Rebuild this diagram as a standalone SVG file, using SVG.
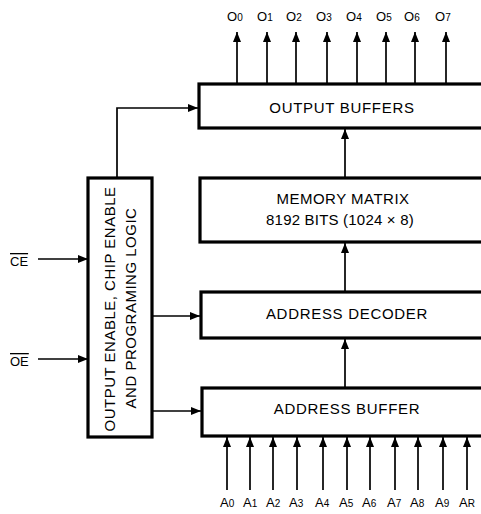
<svg xmlns="http://www.w3.org/2000/svg" width="481" height="514" viewBox="0 0 481 514">
<style>
.box{fill:#fff;stroke:#000;stroke-width:3.2}
.c{fill:none;stroke:#000;stroke-width:1.7}
.t{font-family:"Liberation Sans",Arial,sans-serif;font-size:15px;fill:#000;text-anchor:middle}
.l{font-family:"Liberation Sans",Arial,sans-serif;font-size:13px;fill:#000}
.s{font-size:10px}
</style>
<defs>
<marker id="ah" viewBox="0 0 10 8" refX="10" refY="4" markerWidth="10" markerHeight="8" markerUnits="userSpaceOnUse" orient="auto">
<path d="M0,0 L10,4 L0,8 Z" fill="#000"/>
</marker>
</defs>
<g id="connectors">
<path class="c" d="M117,178 V108 H198" marker-end="url(#ah)"/>
<path class="c" d="M38,259 H88" marker-end="url(#ah)"/>
<path class="c" d="M38,359 H88" marker-end="url(#ah)"/>
<path class="c" d="M152,316 H200" marker-end="url(#ah)"/>
<path class="c" d="M152,411 H201" marker-end="url(#ah)"/>
<path class="c" d="M345,178 V129" marker-end="url(#ah)"/>
<path class="c" d="M345,292 V243" marker-end="url(#ah)"/>
<path class="c" d="M345,388 V339" marker-end="url(#ah)"/>
<g id="outputs">
<path class="c" d="M237,83 V32" marker-end="url(#ah)"/>
<path class="c" d="M267,83 V32" marker-end="url(#ah)"/>
<path class="c" d="M296,83 V32" marker-end="url(#ah)"/>
<path class="c" d="M327,83 V32" marker-end="url(#ah)"/>
<path class="c" d="M357,83 V32" marker-end="url(#ah)"/>
<path class="c" d="M386,83 V32" marker-end="url(#ah)"/>
<path class="c" d="M415,83 V32" marker-end="url(#ah)"/>
<path class="c" d="M446,83 V32" marker-end="url(#ah)"/>
</g>
<g id="inputs">
<path class="c" d="M227,490 V437" marker-end="url(#ah)"/>
<path class="c" d="M250,490 V437" marker-end="url(#ah)"/>
<path class="c" d="M273,490 V437" marker-end="url(#ah)"/>
<path class="c" d="M297,490 V437" marker-end="url(#ah)"/>
<path class="c" d="M323,490 V437" marker-end="url(#ah)"/>
<path class="c" d="M347,490 V437" marker-end="url(#ah)"/>
<path class="c" d="M370,490 V437" marker-end="url(#ah)"/>
<path class="c" d="M395,490 V437" marker-end="url(#ah)"/>
<path class="c" d="M418,490 V437" marker-end="url(#ah)"/>
<path class="c" d="M443,490 V437" marker-end="url(#ah)"/>
<path class="c" d="M467,490 V437" marker-end="url(#ah)"/>
</g>
</g>
<g id="control-logic">
<rect class="box" x="88" y="178" width="64" height="259"/>
<text class="t" transform="translate(115,309) rotate(-90)" letter-spacing="0.5">OUTPUT ENABLE, CHIP ENABLE</text>
<text class="t" transform="translate(136,308) rotate(-90)" letter-spacing="0.5">AND PROGRAMING LOGIC</text>
</g>
<g id="output-buffers">
<rect class="box" x="199" y="84" width="295" height="44"/>
<text class="t" x="342" y="113" letter-spacing="0.7">OUTPUT BUFFERS</text>
</g>
<g id="memory-matrix">
<rect class="box" x="200" y="178" width="295" height="64"/>
<text class="t" x="343" y="204" letter-spacing="0.5">MEMORY MATRIX</text>
<text class="t" x="340" y="225" letter-spacing="0.2">8192 BITS (1024 × 8)</text>
</g>
<g id="address-decoder">
<rect class="box" x="201" y="292" width="295" height="46"/>
<text class="t" x="347" y="319" letter-spacing="0.7">ADDRESS DECODER</text>
</g>
<g id="address-buffer">
<rect class="box" x="202" y="388" width="295" height="48"/>
<text class="t" x="347" y="414" letter-spacing="0.7">ADDRESS BUFFER</text>
</g>
<g id="labels">
<text class="l" x="10" y="266" text-decoration="overline">CE</text>
<text class="l" x="10" y="366" text-decoration="overline">OE</text>
<text class="l" x="227" y="21">O<tspan class="s">0</tspan></text>
<text class="l" x="257" y="21">O<tspan class="s">1</tspan></text>
<text class="l" x="286" y="21">O<tspan class="s">2</tspan></text>
<text class="l" x="316" y="21">O<tspan class="s">3</tspan></text>
<text class="l" x="346" y="21">O<tspan class="s">4</tspan></text>
<text class="l" x="376" y="21">O<tspan class="s">5</tspan></text>
<text class="l" x="404" y="21">O<tspan class="s">6</tspan></text>
<text class="l" x="435" y="21">O<tspan class="s">7</tspan></text>
<text class="l" x="220" y="507">A<tspan class="s">0</tspan></text>
<text class="l" x="243" y="507">A<tspan class="s">1</tspan></text>
<text class="l" x="266" y="507">A<tspan class="s">2</tspan></text>
<text class="l" x="289" y="507">A<tspan class="s">3</tspan></text>
<text class="l" x="315" y="507">A<tspan class="s">4</tspan></text>
<text class="l" x="339" y="507">A<tspan class="s">5</tspan></text>
<text class="l" x="362" y="507">A<tspan class="s">6</tspan></text>
<text class="l" x="387" y="507">A<tspan class="s">7</tspan></text>
<text class="l" x="410" y="507">A<tspan class="s">8</tspan></text>
<text class="l" x="435" y="507">A<tspan class="s">9</tspan></text>
<text class="l" x="459" y="507">A<tspan class="s">R</tspan></text>
</g>
</svg>
